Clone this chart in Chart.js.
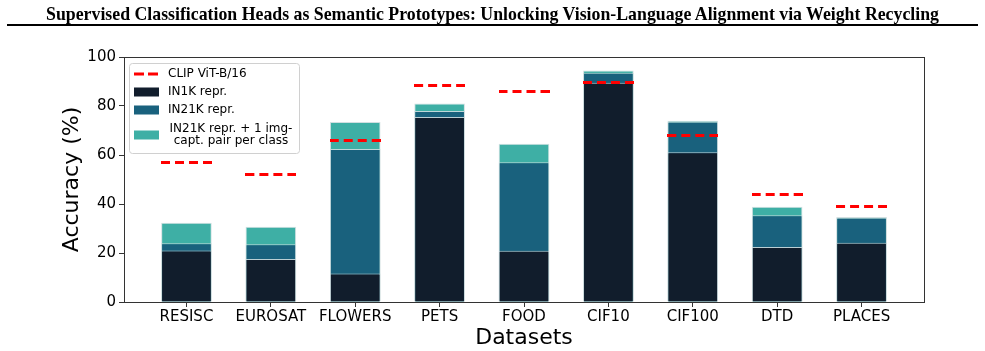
<!DOCTYPE html>
<html>
<head>
<meta charset="utf-8">
<script src="https://cdn.jsdelivr.net/npm/chart.js@4.4.1/dist/chart.umd.min.js"></script>
<style>
  body { margin: 0; background: #fff; }
  #wrap { position: relative; width: 985px; height: 351px; }
  #title {
    position: absolute; left: 0; top: 4px; width: 985px; text-align: center;
    font-family: "Liberation Serif", serif; font-weight: bold; font-size: 17.8px; color: #000;
  }
  #rule { position: absolute; left: 7px; top: 24px; width: 971px; height: 2px; background: #000; }
  canvas { position: absolute; left: 0; top: 0; }
</style>
</head>
<body>
<div id="wrap">
  <canvas id="accChart" width="985" height="351"></canvas>
  <div id="title">Supervised Classification Heads as Semantic Prototypes: Unlocking Vision-Language Alignment via Weight Recycling</div>
  <div id="rule"></div>
</div>
<script>
  // data
  const datasetNames = ['RESISC', 'EUROSAT', 'FLOWERS', 'PETS', 'FOOD', 'CIF10', 'CIF100', 'DTD', 'PLACES'];
  const clipVitB16 = [57.1, 52.0, 65.9, 88.3, 85.9, 89.6, 67.9, 43.9, 38.9];
  const in1kRepr = [21.0, 17.6, 11.6, 75.5, 20.9, 89.5, 61.1, 22.5, 24.2];
  const in21kRepr = [24.0, 23.6, 62.4, 78.0, 57.0, 93.6, 73.6, 35.4, 34.4];
  const in21kCapt = [32.3, 30.7, 73.5, 81.0, 64.6, 94.5, 74.0, 38.9, 34.7];
  const yTicks = [0, 20, 40, 60, 80, 100];

  const toXY = arr => arr.map((v, i) => ({ x: i, y: v }));

  // dashed red marker as wide as a bar
  function dashImage(w) {
    let c = document.createElement('canvas');
    c.width = w; c.height = 3;
    let g = c.getContext('2d');
    g.strokeStyle = '#ff0000';
    g.lineWidth = 3;
    g.setLineDash([9, 5]);
    g.beginPath(); g.moveTo(0, 1.5); g.lineTo(w, 1.5); g.stroke();
    return c;
  }
  const dash = dashImage(51);

  // matplotlib style frame and legend
  const framePlugin = {
    id: 'frame',
    afterDraw(chart) {
      const { ctx, chartArea: a } = chart;
      ctx.save();
      ctx.strokeStyle = '#333';
      ctx.lineWidth = 1;
      ctx.strokeRect(a.left + 0.5, a.top + 0.5, a.right - a.left, a.bottom - a.top);

      // legend box
      const lx = 129, ly = 63, lw = 170, lh = 90;
      ctx.fillStyle = 'rgba(255,255,255,0.85)';
      ctx.strokeStyle = '#d0d0d0';
      ctx.beginPath();
      ctx.roundRect(lx + 0.5, ly + 0.5, lw, lh, 3);
      ctx.fill(); ctx.stroke();

      const ds = chart.data.datasets;
      ctx.font = '12px "DejaVu Sans"';
      ctx.fillStyle = '#000';
      ctx.textBaseline = 'middle';
      const hx = 134, tx = 168;
      // CLIP line
      ctx.strokeStyle = '#ff0000'; ctx.lineWidth = 3;
      ctx.setLineDash([10, 4]);
      ctx.beginPath(); ctx.moveTo(hx, 74); ctx.lineTo(hx + 25, 74); ctx.stroke();
      ctx.setLineDash([]);
      ctx.textAlign = 'left';
      ctx.fillStyle = '#000';
      ctx.fillText(ds[0].label, tx, 74);
      const rows = [92, 110, 135];
      for (let k = 1; k <= 3; k++) {
        ctx.fillStyle = ds[k].backgroundColor;
        ctx.fillRect(hx, rows[k - 1] - 4.5, 25, 9);
        ctx.fillStyle = '#000';
        if (Array.isArray(ds[k].label)) {
          ctx.textAlign = 'center';
          ctx.fillText(ds[k].label[0], 231, rows[k - 1] - 6);
          ctx.fillText(ds[k].label[1], 231, rows[k - 1] + 6);
          ctx.textAlign = 'left';
        } else {
          ctx.fillText(ds[k].label, tx, rows[k - 1]);
        }
      }
      ctx.restore();
    }
  };

  const barCommon = {
    type: 'bar',
    grouped: false,
    categoryPercentage: 1.0,
    barPercentage: 0.6,
    borderWidth: 1,
    borderColor: 'rgba(205,220,222,0.9)',
    borderSkipped: 'bottom'
  };

  let ctx = document.getElementById('accChart').getContext('2d');
  let accChart = new Chart(ctx, {
    data: {
      datasets: [
        {
          type: 'line',
          label: 'CLIP ViT-B/16',
          data: toXY(clipVitB16),
          showLine: false,
          pointStyle: dash,
          pointRadius: 10,
          pointHoverRadius: 10,
          borderColor: '#ff0000',
          backgroundColor: '#ff0000'
        },
        Object.assign({ label: 'IN1K repr.', data: toXY(in1kRepr), backgroundColor: '#111d2c' }, barCommon),
        Object.assign({ label: 'IN21K repr.', data: toXY(in21kRepr), backgroundColor: '#19617d' }, barCommon),
        Object.assign({ label: ['IN21K repr. + 1 img-', 'capt. pair per class'], data: toXY(in21kCapt), backgroundColor: '#3eafa5' }, barCommon)
      ]
    },
    options: {
      responsive: false,
      animation: false,
      layout: { padding: { left: 0, right: 61, top: 57, bottom: 0 } },
      plugins: { legend: { display: false }, tooltip: { enabled: false }, title: { display: false } },
      scales: {
        x: {
          type: 'linear',
          min: -0.74,
          max: 8.74,
          offset: false,
          border: { display: false },
          grid: { display: true, offset: false, drawOnChartArea: false, drawTicks: true, tickLength: 5, color: '#333' },
          afterBuildTicks: s => { s.ticks = datasetNames.map((n, i) => ({ value: i })); },
          ticks: {
            autoSkip: false,
            maxRotation: 0,
            padding: 1,
            color: '#000',
            font: { family: 'DejaVu Sans', size: 15 },
            callback: v => datasetNames[v] || ''
          },
          title: { display: true, text: 'Datasets', color: '#000', font: { family: 'DejaVu Sans', size: 22 }, padding: { top: 0, bottom: 0 } },
          afterFit: s => { s.height = 49; }
        },
        y: {
          min: 0,
          max: 100,
          border: { display: false },
          grid: { display: true, drawOnChartArea: false, drawTicks: true, tickLength: 5, color: '#333' },
          afterBuildTicks: s => { s.ticks = yTicks.map(v => ({ value: v })); },
          ticks: { color: '#000', padding: 3, font: { family: 'DejaVu Sans', size: 15 } },
          title: { display: true, text: 'Accuracy (%)', color: '#000', font: { family: 'DejaVu Sans', size: 22 }, padding: { top: 59, bottom: 0 } },
          afterFit: s => { s.width = 124; }
        }
      }
    },
    plugins: [framePlugin]
  });
</script>
</body>
</html>
